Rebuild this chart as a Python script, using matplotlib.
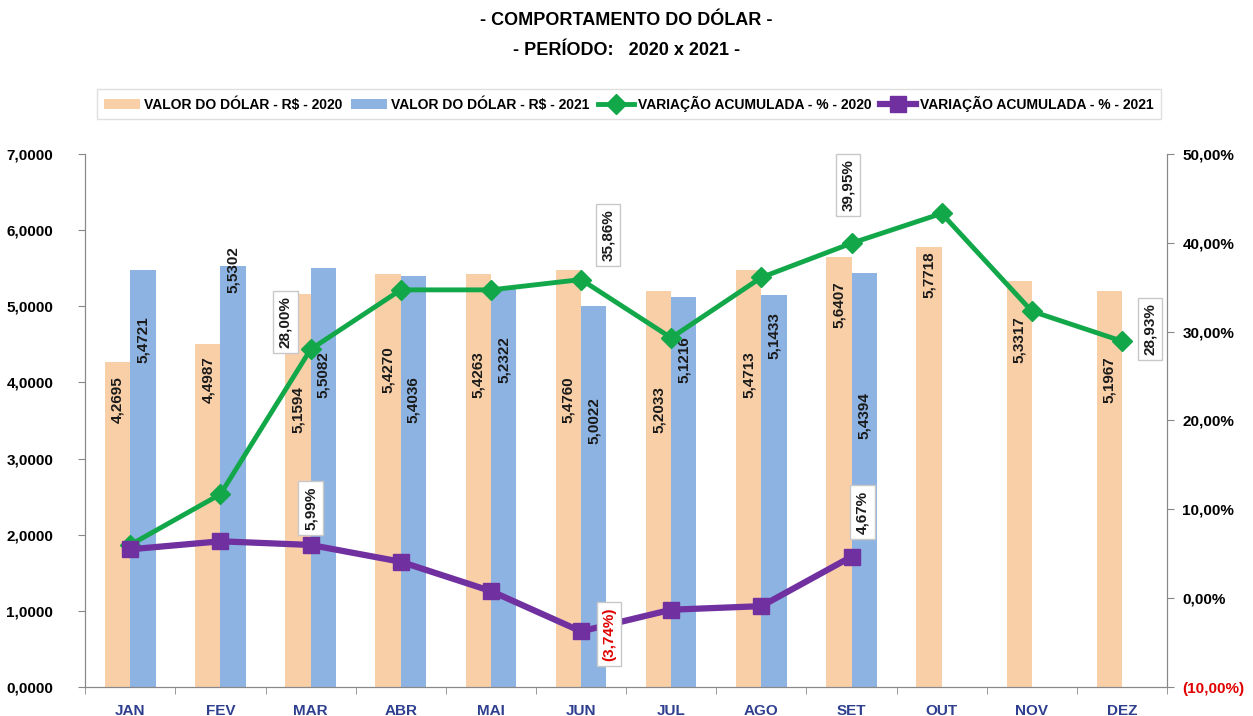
import numpy as np
import matplotlib
matplotlib.use('Agg')
from matplotlib import pyplot as plt
from matplotlib.ticker import FuncFormatter, FixedLocator

plt.rcParams['font.family'] = ['Liberation Sans Narrow', 'Liberation Sans', 'DejaVu Sans']
plt.rcParams['font.weight'] = 'bold'

months = ['JAN', 'FEV', 'MAR', 'ABR', 'MAI', 'JUN', 'JUL', 'AGO', 'SET', 'OUT', 'NOV', 'DEZ']
dolar_2020 = [4.2695, 4.4987, 5.1594, 5.4270, 5.4263, 5.4760, 5.2033, 5.4713, 5.6407, 5.7718, 5.3317, 5.1967]
dolar_2021 = [5.4721, 5.5302, 5.5082, 5.4036, 5.2322, 5.0022, 5.1216, 5.1433, 5.4394]
var_2020 = [6.0, 11.7, 28.00, 34.7, 34.7, 35.86, 29.3, 36.1, 39.95, 43.3, 32.3, 28.93]
var_2021 = [5.5, 6.4, 5.99, 4.1, 0.8, -3.74, -1.3, -0.9, 4.67]

# where the rotated bar labels sit (centre, in R$ units)
lbl_y_2020 = [3.77, 4.03, 3.64, 4.17, 4.10, 3.77, 3.64, 4.10, 5.02, 5.41, 4.56, 4.03]
lbl_y_2021 = [4.56, 5.48, 4.10, 3.77, 4.30, 3.50, 4.30, 4.62, 3.57]

# annotated percentage points: (series, month index, label x, label y in %)
pct_labels = [
    ('2020', 2, 1.72, 31.1),
    ('2020', 5, 5.30, 40.9),
    ('2020', 8, 7.96, 46.5),
    ('2020', 11, 11.31, 30.3),
    ('2021', 2, 2.00, 10.1),
    ('2021', 5, 5.31, -4.05),
    ('2021', 8, 8.12, 9.7),
]

C_2020 = '#F9CFA8'
C_2021 = '#8DB3E2'
C_G = '#12A84A'
C_P = '#7030A0'


def br(v, d):
    return f'{v:.{d}f}'.replace('.', ',')


def pct_fmt(v):
    s = br(abs(v), 2) + '%'
    return f'({s})' if v < 0 else s


def main():
    fig = plt.figure(figsize=(12.53, 7.16), dpi=100)
    ax = fig.add_axes([0.068, 0.0405, 0.8634, 0.7445])
    ax2 = ax.twinx()

    x = np.arange(len(months))
    w = 0.28
    x21 = x[:len(dolar_2021)]
    b1 = ax.bar(x - w / 2, dolar_2020, w, color=C_2020, label='VALOR DO DÓLAR - R$ - 2020', zorder=2)
    b2 = ax.bar(x21 + w / 2, dolar_2021, w, color=C_2021, label='VALOR DO DÓLAR - R$ - 2021', zorder=2)

    for xi, v, ly in zip(x, dolar_2020, lbl_y_2020):
        ax.text(xi - w / 2, ly, br(v, 4), rotation=90, ha='center', va='center', fontsize=11, color='#1a1a1a', zorder=3)
    for xi, v, ly in zip(x21, dolar_2021, lbl_y_2021):
        ax.text(xi + w / 2, ly, br(v, 4), rotation=90, ha='center', va='center', fontsize=11, color='#1a1a1a', zorder=3)

    ax.set_xlim(-0.5, 11.5)
    ax.set_ylim(0, 7)
    ax.set_yticks(np.arange(0, 8))
    ax.yaxis.set_major_formatter(FuncFormatter(lambda v, p: br(v, 4)))
    ax.set_xticks(x)
    ax.set_xticklabels(months, color='#2E3F8F', fontsize=11)
    ax.xaxis.set_minor_locator(FixedLocator(np.arange(-0.5, 12, 1)))
    ax.tick_params(axis='x', which='major', length=0, pad=12)
    ax.tick_params(axis='x', which='minor', length=5, color='#888888')
    ax.tick_params(axis='y', length=5, color='#888888', labelsize=11, pad=18)

    l1, = ax2.plot(x, np.array(var_2020) / 100, color=C_G, lw=3.5, marker='D', ms=10,
                   label='VARIAÇÃO ACUMULADA - % - 2020', zorder=3)
    l2, = ax2.plot(x21, np.array(var_2021) / 100, color=C_P, lw=4.5, marker='s', ms=12,
                   label='VARIAÇÃO ACUMULADA - % - 2021', zorder=4)
    ax2.set_ylim(-0.10, 0.50)
    ax2.set_yticks(np.arange(-0.10, 0.51, 0.10))
    ax2.yaxis.set_major_formatter(FuncFormatter(lambda v, p: pct_fmt(round(v * 100, 4))))
    ax2.tick_params(axis='y', length=5, color='#888888', labelsize=11, pad=6)
    ax2.get_yticklabels()[0].set_color('#E00000')
    for t in ax2.get_yticklabels():
        if t.get_text().startswith('('):
            t.set_color('#E00000')

    series = {'2020': var_2020, '2021': var_2021}
    for s, i, lx, ly in pct_labels:
        v = series[s][i]
        col = '#E00000' if v < 0 else '#1a1a1a'
        ax2.text(lx, ly / 100, pct_fmt(v), rotation=90, ha='center', va='center', fontsize=11,
                 color=col, zorder=6,
                 bbox=dict(boxstyle='square,pad=0.35', fc='white', ec='#c8c8c8', lw=1))

    for a in (ax, ax2):
        a.spines['top'].set_visible(False)
        for sp in ('left', 'right', 'bottom'):
            a.spines[sp].set_color('#888888')

    ax2.set_zorder(ax.get_zorder() + 1)
    ax2.patch.set_visible(False)

    fig.legend(handles=[b1, b2, l1, l2], loc='center', bbox_to_anchor=(0.502, 0.855), ncol=4,
               fontsize=10, frameon=True, edgecolor='#d8d8d8', fancybox=False,
               handlelength=2.6, columnspacing=0.6, handletextpad=0.3, borderpad=0.5)

    fig.text(0.5, 0.972, '- COMPORTAMENTO DO DÓLAR -', ha='center', va='center', fontsize=13)
    fig.text(0.5, 0.93, '- PERÍODO:   2020 x 2021 -', ha='center', va='center', fontsize=13)

    fig.savefig('out.png', dpi=100)


if __name__ == '__main__':
    main()
